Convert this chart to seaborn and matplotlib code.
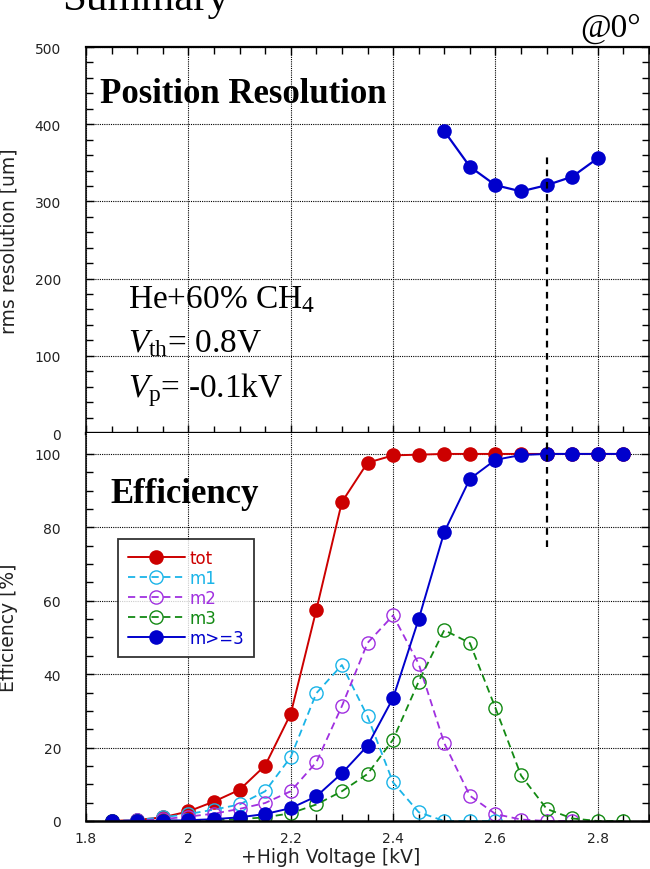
import numpy as np
import pandas as pd
import matplotlib
matplotlib.use("Agg")
import matplotlib.pyplot as plt
import seaborn as sns
from matplotlib.ticker import MultipleLocator, FixedLocator, FuncFormatter

# ---------------- data ----------------
hv_res = [2.50, 2.55, 2.60, 2.65, 2.70, 2.75, 2.80]
rms_res = [391, 345, 321, 313, 321, 332, 356]

hv_all = [1.85, 1.90, 1.95, 2.00, 2.05, 2.10, 2.15, 2.20, 2.25, 2.30, 2.35,
          2.40, 2.45, 2.50, 2.55, 2.60, 2.65, 2.70, 2.75, 2.80, 2.85]
eff_tot = [0.0, 0.3, 1.0, 2.6, 5.3, 8.5, 15.1, 29.2, 57.5, 86.9, 97.6,
           99.6, 99.8, 100, 100, 100, 100, 100, 100, 100, 100]
eff_m3p = [0.0, 0.0, 0.1, 0.2, 0.5, 1.0, 1.9, 3.5, 6.7, 13.0, 20.5,
           33.5, 55.0, 78.7, 93.2, 98.4, 99.7, 100, 100, 100, 100]

hv_m1 = [1.85, 1.90, 1.95, 2.00, 2.05, 2.10, 2.15, 2.20, 2.25, 2.30, 2.35,
         2.40, 2.45, 2.50, 2.55, 2.60]
eff_m1 = [0.0, 0.3, 1.0, 1.9, 3.1, 4.5, 8.1, 17.4, 34.8, 42.5, 28.5,
          10.5, 2.4, 0.0, 0.0, 0.0]

hv_m2 = [1.85, 1.90, 1.95, 2.00, 2.05, 2.10, 2.15, 2.20, 2.25, 2.30, 2.35,
         2.40, 2.45, 2.50, 2.55, 2.60, 2.65, 2.70, 2.75]
eff_m2 = [0.0, 0.2, 0.5, 1.2, 2.0, 3.3, 4.9, 8.1, 16.0, 31.3, 48.5,
          56.0, 42.8, 21.2, 6.9, 1.9, 0.4, 0.0, 0.0]

hv_m3 = hv_all
eff_m3 = [0.0, 0.0, 0.1, 0.1, 0.3, 0.5, 1.0, 2.1, 4.5, 8.1, 12.8,
          22.2, 38.0, 52.0, 48.5, 30.8, 12.4, 3.3, 0.7, 0.0, 0.0]

xticks = [1.8, 2.0, 2.2, 2.4, 2.6, 2.8]
res_ticks = [0, 100, 200, 300, 400, 500]
eff_ticks = [0, 20, 40, 60, 80, 100]

series = [
    ("tot", hv_all, eff_tot, "#CC0000", "-", True),
    ("m1", hv_m1, eff_m1, "#1AB4E8", (0, (4, 2.5)), False),
    ("m2", hv_m2, eff_m2, "#A030E0", (0, (4, 2.5)), False),
    ("m3", hv_m3, eff_m3, "#138A13", (0, (4, 2.5)), False),
    ("m>=3", hv_all, eff_m3p, "#0000CC", "-", True),
]

# ---------------- style ----------------
sns.set_theme(style="white")
plt.rcParams["font.family"] = ["DejaVu Sans"]
plt.rcParams["text.color"] = "black"
plt.rcParams["mathtext.fontset"] = "custom"
plt.rcParams["mathtext.rm"] = "Liberation Serif"
plt.rcParams["mathtext.it"] = "Liberation Serif:italic"
plt.rcParams["mathtext.bf"] = "Liberation Serif:bold"

W, H = 650, 870
fig = plt.figure(figsize=(6.5, 8.7), dpi=100)

left = 86 / W
width = 563 / W
ax1 = fig.add_axes([left, 1 - 434 / H, width, (434 - 48) / H])
ax2 = fig.add_axes([left, 1 - 822 / H, width, (822 - 434) / H])

grid_kw = dict(color="black", linestyle=(0, (1, 1)), linewidth=0.8)

def style_axes(ax):
    ax.set_xlim(1.8, 2.9)
    ax.xaxis.set_major_locator(FixedLocator(xticks))
    ax.xaxis.set_minor_locator(MultipleLocator(0.05))
    ax.tick_params(which="both", direction="in", color="black", width=1)
    ax.tick_params(which="major", length=6)
    ax.tick_params(which="minor", length=5)
    ax.grid(True, which="major", **grid_kw)
    ax.set_facecolor("white")
    for s in ax.spines.values():
        s.set_color("black")
        s.set_linewidth(1.1)

# ---------- top: position resolution ----------
style_axes(ax1)
df_res = pd.DataFrame({"hv": hv_res, "rms": rms_res})
sns.lineplot(data=df_res, x="hv", y="rms", ax=ax1, color="#0000CC",
             marker="o", markersize=10.5, markeredgewidth=0, linewidth=1.6)
ax1.set_ylim(0, 500)
ax1.yaxis.set_major_locator(FixedLocator(res_ticks))
ax1.yaxis.set_minor_locator(FixedLocator([v for v in range(0, 501, 20) if v % 100]))
ax1.tick_params(axis="x", which="both", top=True, bottom=True, labelbottom=False)
ax1.tick_params(axis="y", which="both", left=True, right=True, labelsize=10,
                pad=18, labelcolor="#222222")
ax1.spines["bottom"].set_linewidth(2.4)
ax1.spines["top"].set_linewidth(1.6)
ax1.set_xlabel("")
ax1.set_ylabel("rms resolution [um]", fontsize=13.5, color="#222222")
ax1.yaxis.set_label_coords(-0.12, 0.5)
ax1.vlines(2.7, 0, 362, colors="black", linestyles=(0, (3, 2.5)), linewidth=1.6)

# ---------- bottom: efficiency ----------
style_axes(ax2)
handles = []
for name, xs, ys, col, ls, filled in series:
    d = pd.DataFrame({"hv": xs, "eff": ys})
    kw = dict(marker="o", linewidth=1.4 if filled else 1.3, linestyle=ls,
              color=col)
    if filled:
        kw.update(markersize=10.5, markeredgewidth=0)
    else:
        kw.update(markersize=9.5, markerfacecolor="none",
                  markeredgecolor=col, markeredgewidth=1.0)
    sns.lineplot(data=d, x="hv", y="eff", ax=ax2, label=name, **kw)
    handles.append(ax2.lines[-1])

ax2.set_ylim(0, 105.7)
ax2.yaxis.set_major_locator(FixedLocator(eff_ticks))
ax2.yaxis.set_minor_locator(FixedLocator([v for v in range(0, 101, 5) if v % 20]))
ax2.xaxis.set_major_formatter(FuncFormatter(lambda v, p: "%g" % v))
ax2.tick_params(axis="x", which="both", top=False, bottom=True, labelsize=10,
                pad=7, labelcolor="#222222")
ax2.tick_params(axis="y", which="both", left=True, right=True, labelsize=10,
                pad=18, labelcolor="#222222")
ax2.spines["top"].set_visible(False)
ax2.spines["bottom"].set_linewidth(1.8)
ax2.set_xlabel("+High Voltage [kV]", fontsize=13.5, color="#222222")
ax2.xaxis.set_label_coords((331 - 86) / 563, -0.068)
ax2.set_ylabel("Efficiency [%]", fontsize=13.5, color="#222222")
ax2.yaxis.set_label_coords(-0.12, 0.5)
ax2.vlines(2.7, 74.6, 105.7, colors="black", linestyles=(0, (3, 2.5)), linewidth=1.6)

leg = ax2.legend(handles=handles, labels=[s[0] for s in series],
                 loc="upper left", bbox_to_anchor=((118 - 86) / 563, (822 - 540) / 388),
                 borderaxespad=0, fontsize=12, handlelength=3.4,
                 handletextpad=0.3, labelspacing=0.12, frameon=True,
                 fancybox=False, borderpad=0.6)
leg.get_frame().set_edgecolor("black")
leg.get_frame().set_linewidth(1.3)
for t, s in zip(leg.get_texts(), series):
    t.set_color(s[3])

# ---------- texts ----------
serif = ["Liberation Serif", "DejaVu Serif"]
fig.text(62 / W, 1 - 10 / H, "Summary", family=serif, fontsize=31,
         ha="left", va="baseline", color="black")
fig.text(641 / W, 1 - 37 / H, "@0°", family=serif, fontsize=24,
         ha="right", va="baseline", color="black")
fig.text(100 / W, 1 - 103 / H, "Position Resolution", family=serif,
         fontsize=25, fontweight="bold", ha="left", va="baseline", color="black")
fig.text(110 / W, 1 - 503 / H, "Efficiency", family=serif,
         fontsize=25, fontweight="bold", ha="left", va="baseline", color="black")
fig.text(128 / W, 1 - 308 / H, r"He+60% CH$_4$", family=serif, fontsize=24,
         ha="left", va="baseline", color="black")
fig.text(128 / W, 1 - 352 / H, r"$V_{\mathrm{th}}$= 0.8V", family=serif,
         fontsize=24, ha="left", va="baseline", color="black")
fig.text(128 / W, 1 - 397 / H, r"$V_{\mathrm{p}}$= -0.1kV", family=serif,
         fontsize=24, ha="left", va="baseline", color="black")

fig.savefig("out.png", dpi=100)
